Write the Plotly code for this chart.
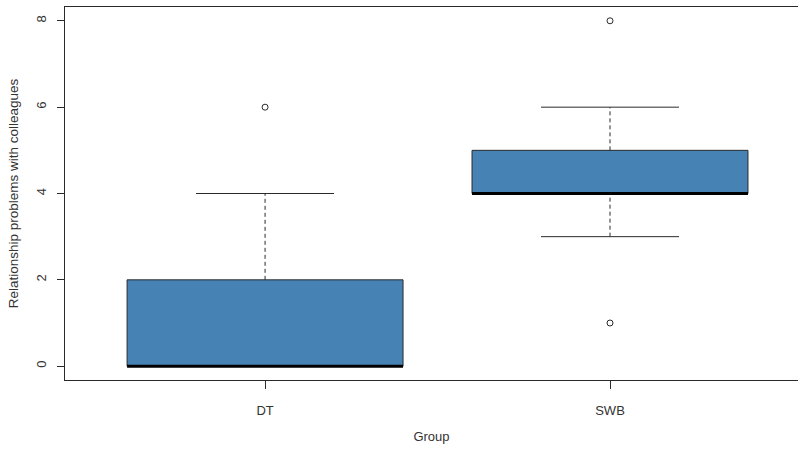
import plotly.graph_objects as go

# Summary statistics per group (R-style boxplot)
groups = ["DT", "SWB"]
positions = [1, 2]
q1 = [0, 4]
median = [0, 4]
q3 = [2, 5]
whisker_low = [0, 3]
whisker_high = [4, 6]
outliers = {"DT": [6], "SWB": [8, 1]}

y_ticks = [0, 2, 4, 6, 8]

box_width = 0.8
cap_width = 0.4
fill_color = "#4682B4"
ink = "#2a2a2a"
font_family = "Liberation Sans, Arial, sans-serif"

fig = go.Figure()

# Boxes (Q1 to Q3)
fig.add_trace(go.Bar(
    x=positions,
    y=[b - a for a, b in zip(q1, q3)],
    base=q1,
    width=box_width,
    marker=dict(color=fill_color, line=dict(color=ink, width=1)),
    hoverinfo="skip",
))

# Dashed whiskers
wx, wy = [], []
for p, lo, a, b, hi in zip(positions, whisker_low, q1, q3, whisker_high):
    wx += [p, p, None, p, p, None]
    wy += [lo, a, None, b, hi, None]
fig.add_trace(go.Scatter(
    x=wx, y=wy, mode="lines",
    line=dict(color=ink, width=1, dash="4px,3px"),
    hoverinfo="skip",
))

# Whisker caps
cx, cy = [], []
for p, lo, hi in zip(positions, whisker_low, whisker_high):
    for v in (lo, hi):
        cx += [p - cap_width / 2, p + cap_width / 2, None]
        cy += [v, v, None]
fig.add_trace(go.Scatter(
    x=cx, y=cy, mode="lines",
    line=dict(color=ink, width=1),
    hoverinfo="skip",
))

# Medians
mx, my = [], []
for p, m in zip(positions, median):
    mx += [p - box_width / 2, p + box_width / 2, None]
    my += [m, m, None]
fig.add_trace(go.Scatter(
    x=mx, y=my, mode="lines",
    line=dict(color="#000000", width=3),
    hoverinfo="skip",
))

# Outliers
ox, oy = [], []
for p, g in zip(positions, groups):
    for v in outliers[g]:
        ox.append(p)
        oy.append(v)
fig.add_trace(go.Scatter(
    x=ox, y=oy, mode="markers",
    marker=dict(symbol="circle-open", size=6, color=ink, line=dict(width=1)),
    hoverinfo="skip",
))

fig.update_layout(
    width=798,
    height=451,
    margin=dict(l=65, r=0, t=7, b=71),
    paper_bgcolor="white",
    plot_bgcolor="white",
    showlegend=False,
    font=dict(family=font_family, size=12, color="#333333"),
    xaxis=dict(
        range=[0.42, 2.545],
        tickmode="array",
        tickvals=positions,
        ticktext=groups,
        ticks="outside",
        ticklen=8,
        tickcolor=ink,
        tickfont=dict(size=13),
        showline=True,
        linecolor=ink,
        linewidth=1,
        mirror=True,
        showgrid=False,
        zeroline=False,
        ticklabelstandoff=10,
        title=dict(text="Group", standoff=15, font=dict(size=13)),
        automargin=False,
    ),
    yaxis=dict(
        range=[-0.32, 8.32],
        tickmode="array",
        tickvals=y_ticks,
        ticks="outside",
        ticklen=7,
        tickcolor=ink,
        tickangle=-90,
        tickfont=dict(size=13),
        showline=True,
        linecolor=ink,
        linewidth=1,
        showgrid=False,
        zeroline=False,
        ticklabelstandoff=6,
        title=dict(text="Relationship problems with colleagues", standoff=12,
                   font=dict(size=13.5)),
        automargin=False,
    ),
)

fig.write_html("out.html")
